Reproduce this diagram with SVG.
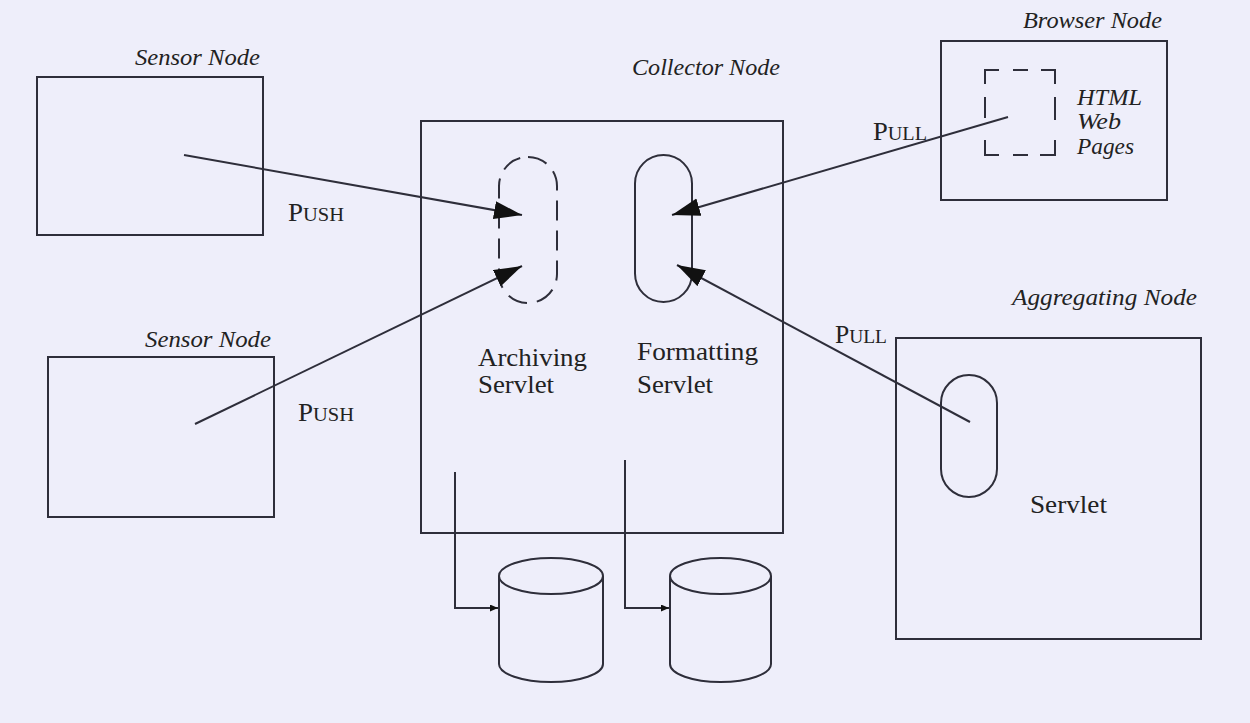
<svg xmlns="http://www.w3.org/2000/svg" width="1250" height="723" viewBox="0 0 1250 723">
  <style>
    .box { fill: none; stroke: #2e2e3a; stroke-width: 2; }
    .pill { fill: none; stroke: #2e2e3a; stroke-width: 2; }
    .dash { stroke-dasharray: 20 10; }
    .edge { fill: none; stroke: #2e2e3a; stroke-width: 2; }
    .title { font-family: "Liberation Serif", serif; font-style: italic; font-size: 24px; fill: #222; }
    .label { font-family: "Liberation Serif", serif; font-size: 26px; fill: #222; }
    .caps { font-family: "Liberation Serif", serif; font-size: 25px; fill: #222; }
    .caps tspan { font-size: 19px; }
  </style>
  <defs>
    <marker id="bigArrow" markerUnits="userSpaceOnUse" markerWidth="30" markerHeight="20" refX="28" refY="9" orient="auto">
      <path d="M0,0 L28,9 L0,18 Z" fill="#111"/>
    </marker>
    <marker id="smallArrow" markerUnits="userSpaceOnUse" markerWidth="10" markerHeight="8" refX="8" refY="3.5" orient="auto">
      <path d="M0,0 L8,3.5 L0,7 Z" fill="#111"/>
    </marker>
  </defs>

  <rect width="1250" height="723" fill="#eeeefa"/>

  <!-- upper sensor node -->
  <g id="sensor-node-1">
    <rect class="box" x="37" y="77" width="226" height="158"/>
    <text class="title" x="135" y="65" textLength="125" lengthAdjust="spacingAndGlyphs">Sensor Node</text>
  </g>

  <!-- lower sensor node -->
  <g id="sensor-node-2">
    <rect class="box" x="48" y="357" width="226" height="160"/>
    <text class="title" x="145" y="347" textLength="126" lengthAdjust="spacingAndGlyphs">Sensor Node</text>
  </g>

  <!-- collector node with its two servlets -->
  <g id="collector-node">
    <rect class="box" x="421" y="121" width="362" height="412"/>
    <text class="title" x="632" y="75" textLength="148" lengthAdjust="spacingAndGlyphs">Collector Node</text>
  </g>
  <g id="archiving-servlet">
    <rect class="pill dash" x="499" y="157" width="58" height="146" rx="29" ry="29"/>
    <text class="label" x="478" y="366" textLength="109" lengthAdjust="spacingAndGlyphs">Archiving</text>
    <text class="label" x="478" y="393" textLength="76" lengthAdjust="spacingAndGlyphs">Servlet</text>
  </g>
  <g id="formatting-servlet">
    <rect class="pill" x="635" y="155" width="57" height="147" rx="28.5" ry="28.5"/>
    <text class="label" x="637" y="360" textLength="121" lengthAdjust="spacingAndGlyphs">Formatting</text>
    <text class="label" x="637" y="393" textLength="76" lengthAdjust="spacingAndGlyphs">Servlet</text>
  </g>

  <!-- browser node with HTML pages -->
  <g id="browser-node">
    <rect class="box" x="941" y="41" width="226" height="159"/>
    <text class="title" x="1023" y="28" textLength="139" lengthAdjust="spacingAndGlyphs">Browser Node</text>
  </g>
  <g id="html-pages">
    <path class="edge" d="M985,84 V70 H999 M1013,70 H1028 M1041,70 H1055 V84 M1055,97 V120 M1055,140 V155 H1040 M1028,155 H1013 M999,155 H985 V140 M985,97 V118"/>
    <text class="title" x="1077" y="105" textLength="65" lengthAdjust="spacingAndGlyphs">HTML</text>
    <text class="title" x="1077" y="129" textLength="44" lengthAdjust="spacingAndGlyphs">Web</text>
    <text class="title" x="1077" y="154" textLength="57" lengthAdjust="spacingAndGlyphs">Pages</text>
  </g>

  <!-- aggregating node -->
  <g id="aggregating-node">
    <rect class="box" x="896" y="338" width="305" height="301"/>
    <text class="title" x="1012" y="305" textLength="185" lengthAdjust="spacingAndGlyphs">Aggregating Node</text>
    <rect class="pill" x="941" y="375" width="56" height="122" rx="28" ry="28"/>
    <text class="label" x="1030" y="513" textLength="77" lengthAdjust="spacingAndGlyphs">Servlet</text>
  </g>

  <!-- data stores -->
  <g id="store-1">
    <path class="box" d="M499,576 V664 A52,18 0 0 0 603,664 V576"/>
    <ellipse class="box" cx="551" cy="576" rx="52" ry="18"/>
  </g>
  <g id="store-2">
    <path class="box" d="M670,576 V664 A50.5,18 0 0 0 771,664 V576"/>
    <ellipse class="box" cx="720.5" cy="576" rx="50.5" ry="18"/>
  </g>

  <!-- connectors -->
  <g id="connectors">
    <line class="edge" x1="184" y1="155" x2="522" y2="215" marker-end="url(#bigArrow)"/>
    <line class="edge" x1="195" y1="424" x2="522" y2="266" marker-end="url(#bigArrow)"/>
    <line class="edge" x1="1008" y1="117" x2="672" y2="215" marker-end="url(#bigArrow)"/>
    <line class="edge" x1="970" y1="422" x2="677" y2="265" marker-end="url(#bigArrow)"/>
    <path class="edge" d="M455,472 V608 H498" marker-end="url(#smallArrow)"/>
    <path class="edge" d="M625,460 V608 H669" marker-end="url(#smallArrow)"/>
  </g>

  <!-- connector labels -->
  <g id="connector-labels">
    <text class="caps" x="288" y="221" textLength="56" lengthAdjust="spacingAndGlyphs">P<tspan>USH</tspan></text>
    <text class="caps" x="298" y="421" textLength="56" lengthAdjust="spacingAndGlyphs">P<tspan>USH</tspan></text>
    <text class="caps" x="873" y="140" textLength="54" lengthAdjust="spacingAndGlyphs">P<tspan>ULL</tspan></text>
    <text class="caps" x="835" y="343" textLength="52" lengthAdjust="spacingAndGlyphs">P<tspan>ULL</tspan></text>
  </g>
</svg>
